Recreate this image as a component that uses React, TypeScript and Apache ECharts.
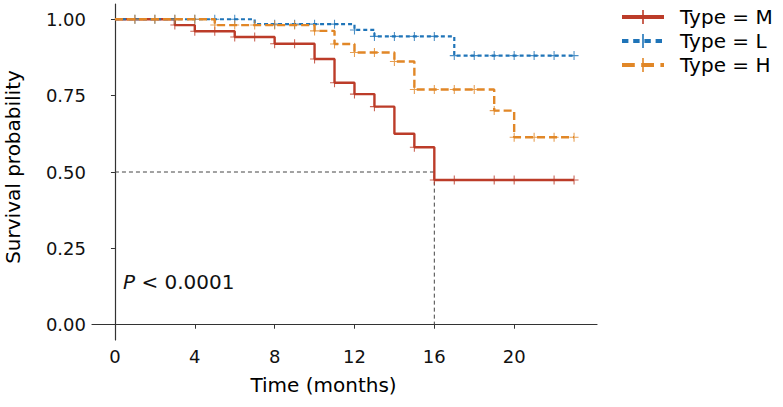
import React, { useEffect, useRef } from "react";
import * as echarts from "echarts";

const groups = ["Type = M", "Type = L", "Type = H"];
const colors = ["#BC3C29", "#1F74B8", "#E18727"];

const mTimes = [0, 3, 4, 6, 8, 10, 11, 12, 13, 14, 15, 16, 23];
const mSurv = [1, 0.981, 0.961, 0.942, 0.92, 0.87, 0.792, 0.755, 0.714, 0.625, 0.581, 0.474, 0.474];
const mCensor = [3, 4, 5, 6, 7, 8, 9, 10, 11, 12, 13, 15, 16, 17, 19, 20, 22, 23];

const lTimes = [0, 7, 12, 13, 17, 23];
const lSurv = [1, 0.984, 0.965, 0.944, 0.881, 0.881];
const lCensor = [1, 2, 3, 4, 5, 6, 8, 9, 10, 11, 12, 13, 14, 15, 16, 17, 18, 19, 20, 21, 22, 23];

const hTimes = [0, 5, 10, 11, 12, 14, 15, 19, 20, 23];
const hSurv = [1, 0.981, 0.962, 0.919, 0.891, 0.862, 0.77, 0.701, 0.614, 0.614];
const hCensor = [1, 2, 3, 4, 5, 6, 7, 8, 9, 10, 11, 12, 13, 14, 15, 16, 17, 18, 19, 20, 21, 22, 23];

const xTicks = [0, 4, 8, 12, 16, 20];
const yTicks = [0, 0.25, 0.5, 0.75, 1];
const medianTime = 16;
const medianSurv = 0.5;
const pText = "< 0.0001";

const FONT = "DejaVu Sans";
const PLUS = "path://M-0.12,-1H0.12V-0.12H1V0.12H0.12V1H-0.12V0.12H-1V-0.12H-0.12Z";

function stepAt(times: number[], surv: number[], t: number) {
  let v = surv[0];
  for (let i = 0; i < times.length; i++) if (times[i] <= t) v = surv[i];
  return v;
}

const curves = [
  { times: mTimes, surv: mSurv, censor: mCensor, width: 2.4, dash: null as any },
  { times: lTimes, surv: lSurv, censor: lCensor, width: 2.2, dash: [4, 3] },
  { times: hTimes, surv: hSurv, censor: hCensor, width: 2.4, dash: [8, 4] },
];

export default function App() {
  const ref = useRef<HTMLDivElement>(null);
  useEffect(() => {
    if (!ref.current) return;
    const chart = echarts.init(ref.current, undefined, { renderer: "svg" });
    const series: any[] = [];
    series.push({
      type: "line",
      data: [[0, medianSurv], [medianTime, medianSurv], [medianTime, 0]],
      showSymbol: false,
      lineStyle: { color: "#444", width: 1, type: [4, 3] },
      silent: true,
      z: 1,
    });
    curves.forEach((c, i) => {
      series.push({
        name: groups[i],
        type: "line",
        step: "end",
        data: c.times.map((t, k) => [t, c.surv[k]]),
        showSymbol: false,
        lineStyle: { color: colors[i], width: c.width, type: c.dash ? c.dash : "solid" },
        z: 2 + i,
      });
      series.push({
        type: "scatter",
        data: c.censor.map((t) => [t, stepAt(c.times, c.surv, t)]),
        symbol: PLUS,
        symbolSize: 9,
        itemStyle: { color: colors[i] },
        z: 2 + i,
      });
    });

    const g: any[] = [];
    const rowY = [17, 41, 65];
    curves.forEach((c, i) => {
      g.push({
        type: "line",
        shape: { x1: 622, y1: rowY[i], x2: 664, y2: rowY[i] },
        style: { stroke: colors[i], lineWidth: 4, lineDash: c.dash ? c.dash.map((d: number) => d * 1.6) : null },
      });
      g.push({
        type: "line",
        shape: { x1: 643, y1: rowY[i] - 7, x2: 643, y2: rowY[i] + 7 },
        style: { stroke: colors[i], lineWidth: 1.6 },
      });
      g.push({
        type: "text",
        x: 680,
        y: rowY[i],
        style: { text: groups[i], fontSize: 20, fontFamily: FONT, fill: "#000", verticalAlign: "middle", align: "left" },
      });
    });
    g.push({
      type: "text",
      x: 123,
      y: 282,
      style: {
        text: "{i|P} " + pText,
        rich: { i: { fontStyle: "italic", fontSize: 20, fontFamily: FONT, fill: "#111" } },
        fontSize: 20,
        fontFamily: FONT,
        fill: "#111",
        verticalAlign: "middle",
        align: "left",
      },
    });

    chart.setOption({
      animation: false,
      backgroundColor: "#fff",
      grid: { left: 92, right: 186, top: 4, bottom: 67, containLabel: false, outerBoundsMode: "none" },
      xAxis: {
        type: "value",
        min: -1.15,
        max: 24.15,
        name: "Time (months)",
        nameLocation: "middle",
        nameGap: 35,
        nameTextStyle: { fontSize: 20, fontFamily: FONT, color: "#000", padding: [0, 42, 0, 0] },
        axisLine: { show: true, lineStyle: { color: "#333", width: 1.2 } },
        axisTick: { show: true, length: 4, customValues: xTicks, lineStyle: { color: "#333" } },
        axisLabel: { customValues: xTicks, fontSize: 18, fontFamily: FONT, color: "#111", margin: 7 },
        splitLine: { show: false },
      },
      yAxis: {
        type: "value",
        min: -0.05,
        max: 1.05,
        name: "Survival probability",
        nameLocation: "middle",
        nameGap: 69,
        nameTextStyle: { fontSize: 20, fontFamily: FONT, color: "#000", padding: [0, 0, 0, 10] },
        axisLine: { show: true, lineStyle: { color: "#333", width: 1.2 } },
        axisTick: { show: true, length: 4, customValues: yTicks, lineStyle: { color: "#333" } },
        axisLabel: {
          customValues: yTicks,
          fontSize: 18,
          fontFamily: FONT,
          color: "#111",
          margin: 6,
          formatter: (v: number) => v.toFixed(2),
        },
        splitLine: { show: false },
      },
      graphic: g,
      series,
    });
    return () => chart.dispose();
  }, []);
  return <div ref={ref} style={{ width: 783, height: 407, position: "absolute", left: 0, top: 0 }} />;
}
